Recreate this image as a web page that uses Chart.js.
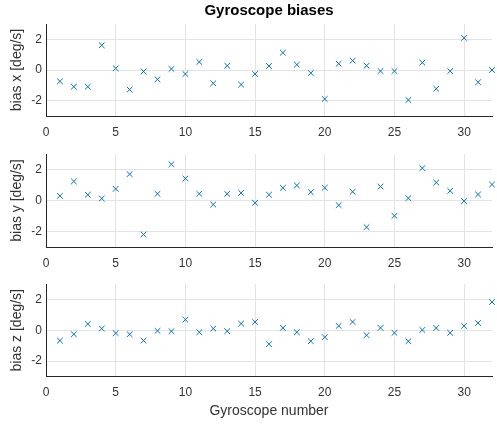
<!DOCTYPE html>
<html lang="en">
<head>
<meta charset="UTF-8">
<title>Gyroscope biases</title>
<script src="https://cdn.jsdelivr.net/npm/chart.js"></script>
<style>
    body { margin: 0; background: #fff; }
    #wrap { position: relative; width: 497px; height: 425px; }
    canvas { position: absolute; left: 0; }
</style>
</head>
<body>
<div id="wrap">
    <canvas id="cx" width="497" height="140" style="top:0px"></canvas>
    <canvas id="cy" width="497" height="131" style="top:140px"></canvas>
    <canvas id="cz" width="497" height="154" style="top:270px"></canvas>
</div>
<script>
// gyroscope index and estimated bias per axis (deg/s)
const gyroNum = [1, 2, 3, 4, 5, 6, 7, 8, 9, 10, 11, 12, 13, 14, 15, 16,
                 17, 18, 19, 20, 21, 22, 23, 24, 25, 26, 27, 28, 29, 30, 31, 32];
const biasX = [-0.74, -1.09, -1.09, 1.61, 0.11, -1.28, -0.09, -0.61, 0.07, -0.26, 0.52, -0.87, 0.28, -0.95, -0.26, 0.26,
               1.13, 0.35, -0.2, -1.89, 0.41, 0.61, 0.28, -0.07, -0.07, -1.96, 0.48, -1.22, -0.07, 2.09, -0.8, 0.0];
const biasY = [0.3, 1.23, 0.37, 0.13, 0.75, 1.7, -2.19, 0.43, 2.34, 1.42, 0.43, -0.26, 0.43, 0.49, -0.15, 0.37,
               0.82, 0.97, 0.54, 0.82, -0.3, 0.56, -1.72, 0.9, -0.99, 0.15, 2.09, 1.16, 0.62, -0.04, 0.39, 1.03];
const biasZ = [-0.67, -0.26, 0.41, 0.11, -0.19, -0.26, -0.67, -0.04, -0.06, 0.69, -0.13, 0.11, -0.06, 0.43, 0.54, -0.9,
               0.15, -0.13, -0.71, -0.45, 0.28, 0.54, -0.32, 0.15, -0.17, -0.71, 0.02, 0.15, -0.17, 0.28, 0.47, 1.83];
const xTicks = [0, 5, 10, 15, 20, 25, 30];
const yTicks = [-2, 0, 2];

const FONT = '"Liberation Sans", Arial, Helvetica, sans-serif';
const AXIS_COLOR = '#262626';
const GRID_COLOR = '#e3e3e3';

function makePlot(id, values, yLabel, opts) {
    const scales = {
        x: {
            type: 'linear',
            min: 0,
            max: 32,
            afterBuildTicks: s => { s.ticks = xTicks.map(v => ({ value: v })); },
            afterFit: s => { s.height = opts.xHeight; },
            grid: { color: GRID_COLOR, drawTicks: false },
            border: { color: AXIS_COLOR, width: 1 },
            ticks: { padding: 9, color: '#333', font: { family: FONT, size: 12 }, maxRotation: 0 },
            title: {
                display: !!opts.xTitle,
                text: opts.xTitle || '',
                color: '#333',
                font: { family: FONT, size: 14 },
                padding: { top: 0, bottom: 4 }
            }
        },
        y: {
            type: 'linear',
            min: -3,
            max: 3,
            afterBuildTicks: s => { s.ticks = yTicks.map(v => ({ value: v })); },
            afterFit: s => { s.width = 46; },
            grid: { color: GRID_COLOR, drawTicks: false },
            border: { color: AXIS_COLOR, width: 1 },
            ticks: { padding: 4, color: '#333', font: { family: FONT, size: 12 } },
            title: {
                display: true,
                text: yLabel,
                color: '#333',
                font: { family: FONT, size: 14 },
                padding: { top: 9, bottom: 0 }
            }
        }
    };
    if (opts.title) {
        // empty top axis, used only so the heading is centred over the plot area
        scales.top = {
            type: 'linear',
            position: 'top',
            min: 0,
            max: 32,
            afterFit: s => { s.height = 24; },
            grid: { display: false },
            border: { display: false },
            ticks: { display: false },
            title: {
                display: true,
                text: opts.title,
                color: '#000',
                font: { family: FONT, size: 15, weight: 'bold' },
                padding: { top: 2, bottom: 0 }
            }
        };
    }
    return new Chart(document.getElementById(id), {
        type: 'scatter',
        data: {
            datasets: [{
                data: gyroNum.map((g, i) => ({ x: g, y: values[i] })),
                pointStyle: 'crossRot',
                radius: 4,
                borderWidth: 1,
                borderColor: '#0072BD',
                backgroundColor: '#0072BD',
                clip: false
            }]
        },
        options: {
            responsive: false,
            animation: false,
            layout: { padding: { top: opts.padTop, right: 5, left: 0, bottom: 0 } },
            plugins: {
                legend: { display: false },
                tooltip: { enabled: false },
                title: { display: false }
            },
            scales: scales
        }
    });
}

makePlot('cx', biasX, 'bias x [deg/s]', { title: 'Gyroscope biases', padTop: 0, xHeight: 24 });
makePlot('cy', biasY, 'bias y [deg/s]', { padTop: 14, xHeight: 24 });
makePlot('cz', biasZ, 'bias z [deg/s]', { padTop: 14, xHeight: 47.5, xTitle: 'Gyroscope number' });
</script>
</body>
</html>
